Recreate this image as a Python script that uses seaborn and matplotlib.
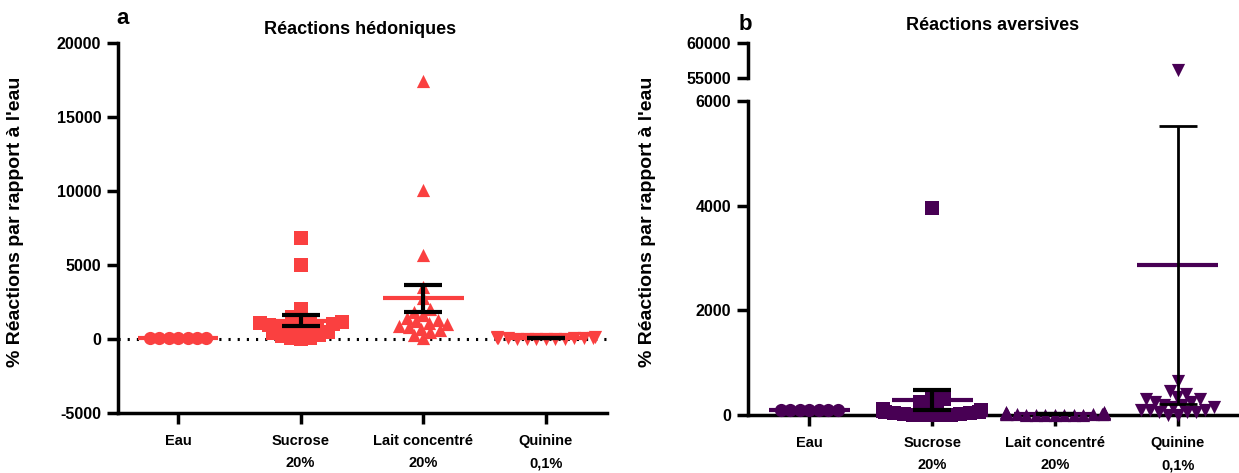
import numpy as np
import pandas as pd
import matplotlib
matplotlib.use("Agg")
import matplotlib.pyplot as plt
from matplotlib.collections import PathCollection
import seaborn as sns

# catégories et valeurs (% réactions par rapport à l'eau)
categories = ["Eau", "Sucrose\n20%", "Lait concentré\n20%", "Quinine\n0,1%"]
markers = ["o", "s", "^", "v"]

hedo_eau = [100, 100, 100, 100, 100, 100, 100]
hedo_sucrose = [6800, 5000, 2000, 1500, 1300, 1200, 1150, 1100, 1000, 950, 900,
                850, 800, 700, 600, 500, 400, 300, 200, 100, 50, 0]
hedo_lait = [17400, 10100, 5700, 3500, 2800, 2000, 1800, 1600, 1400, 1300, 1200,
             1100, 1000, 900, 800, 700, 600, 500, 300, 100]
hedo_quinine = [150, 120, 100, 90, 80, 60, 50, 40, 30, 20, 10, 0, 0, 0]

avers_eau = [100, 100, 100, 100, 100, 100, 100]
avers_sucrose = [3950, 350, 300, 250, 200, 150, 120, 100, 80, 60, 50, 40, 30,
                 20, 10, 0, 0, 0, 0, 0]
avers_lait = [60, 50, 40, 35, 30, 25, 20, 20, 15, 10, 10, 5, 5, 0, 0, 0, 0, 0]
avers_quinine = [56100, 650, 450, 400, 350, 300, 300, 250, 250, 200, 200, 150,
                 150, 100, 100, 100, 50, 50, 50, 0, 0]

red = "#FA4040"
purple = "#480054"

sns.set_style("ticks")
plt.rcParams["font.family"] = ["Liberation Sans", "DejaVu Sans"]
plt.rcParams["font.weight"] = "bold"
plt.rcParams["axes.unicode_minus"] = False
for k in ["text.color", "axes.labelcolor", "xtick.color", "ytick.color",
          "axes.edgecolor"]:
    plt.rcParams[k] = "black"

W, H = 1239, 473
fig = plt.figure(figsize=(W / 100, H / 100), dpi=100)
axa = fig.add_axes([118 / W, 1 - 413 / H, (607 - 118) / W, (413 - 43) / H])
axb = fig.add_axes([748 / W, 1 - 415 / H, (1239 - 748) / W, (415 - 101) / H])
axt = fig.add_axes([748 / W, 1 - 78 / H, (1239 - 748) / W, (78 - 43) / H])

LAYOUT_SIZE = 6.5   # taille utilisée pour placer l'essaim
MARK_SIZE = 9.5     # taille affichée (les points se chevauchent comme dans Prism)


def swarm(ax, vals, i, color):
    sub = pd.DataFrame({"groupe": categories[i], "valeur": vals})
    sns.swarmplot(data=sub, x="groupe", y="valeur", order=categories,
                  marker=markers[i], color=color, size=LAYOUT_SIZE, linewidth=0,
                  clip_on=False, warn_thresh=1, ax=ax)


def mean_sem(ax, vals, i, color, lw=3):
    v = np.asarray(vals, dtype=float)
    m = v.mean()
    s = v.std(ddof=1) / np.sqrt(len(v))
    ax.hlines(m, i - 0.33, i + 0.33, color=color, lw=3, zorder=4)
    if s > 0:
        ax.errorbar(i, m, yerr=s, fmt="none", ecolor="black", elinewidth=lw,
                    capsize=14, capthick=lw, zorder=5)


def style(ax):
    sns.despine(ax=ax)
    for sp in ["left", "bottom"]:
        ax.spines[sp].set_linewidth(2.5)
    ax.tick_params(direction="out", length=8, width=2.5, labelsize=11.5, pad=4)
    ax.set_xlabel("")
    ax.set_ylabel("")


# panel a
hedo = [hedo_eau, hedo_sucrose, hedo_lait, hedo_quinine]
for i, vals in enumerate(hedo):
    swarm(axa, vals, i, red)
for i, vals in enumerate(hedo):
    mean_sem(axa, vals, i, red)
axa.axhline(0, color="black", lw=2.2, ls=(0, (0.7, 2.3)), zorder=0)
axa.set_ylim(-5000, 20000)
axa.set_yticks([-5000, 0, 5000, 10000, 15000, 20000])
axa.set_xlim(-0.49, 3.5)
style(axa)
axa.set_xticks(range(4))
axa.set_xticklabels(categories, linespacing=1.75, fontsize=10.5)
axa.tick_params(axis="x", pad=7)

# panel b (axe coupé)
avers = [avers_eau, avers_sucrose, avers_lait, avers_quinine]
for i, vals in enumerate(avers):
    low = [v for v in vals if v <= 6000]
    high = [v for v in vals if v >= 55000]
    swarm(axb, low, i, purple)
    if high:
        swarm(axt, high, i, purple)
for i, vals in enumerate(avers):
    mean_sem(axb, vals, i, purple, lw=3 if i < 3 else 2)
axb.set_ylim(0, 6000)
axb.set_yticks([0, 2000, 4000, 6000])
axb.set_xlim(-0.5, 3.5)
style(axb)
axb.set_xticks(range(4))
axb.set_xticklabels(categories, linespacing=1.75, fontsize=10.5)
axb.tick_params(axis="x", pad=7)

axt.set_ylim(55000, 60000)
axt.set_yticks([55000, 60000])
axt.set_xlim(-0.5, 3.5)
style(axt)
axt.spines["bottom"].set_visible(False)
axt.set_xticks([])

# fige les positions de l'essaim puis agrandit les marqueurs
fig.canvas.draw()
for ax in [axa, axb, axt]:
    for coll in ax.collections:
        if isinstance(coll, PathCollection):
            if "draw" in coll.__dict__:
                del coll.draw
            coll.set_sizes([MARK_SIZE ** 2])

# textes
ylab = "% Réactions par rapport à l'eau"
fig.text(16 / W, 1 - 222 / H, ylab, rotation=90, ha="center", va="center",
         fontsize=14, weight="bold")
fig.text(648 / W, 1 - 222 / H, ylab, rotation=90, ha="center", va="center",
         fontsize=14, weight="bold")
fig.text(360 / W, 1 - 30 / H, "Réactions hédoniques", ha="center", va="center",
         fontsize=13, weight="bold")
fig.text(993 / W, 1 - 25 / H, "Réactions aversives", ha="center", va="center",
         fontsize=13, weight="bold")
fig.text(123 / W, 1 - 18 / H, "a", ha="center", va="center", fontsize=16,
         weight="bold")
fig.text(745 / W, 1 - 25 / H, "b", ha="center", va="center", fontsize=16,
         weight="bold")

fig.savefig("out.png", dpi=100)
